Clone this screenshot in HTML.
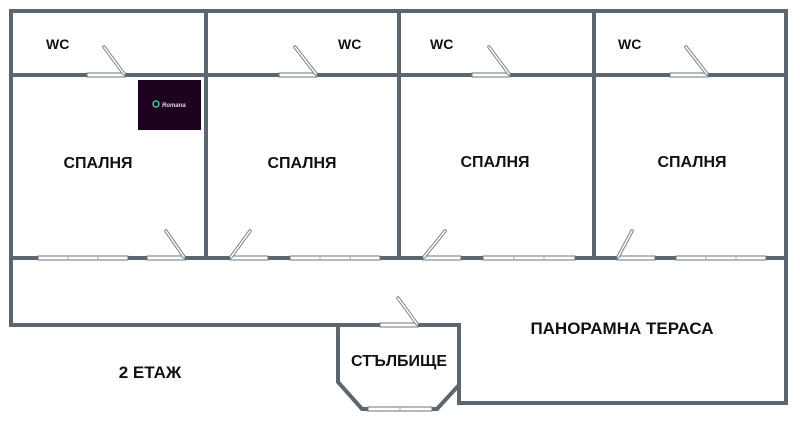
<!DOCTYPE html><html><head><style>body{margin:0;background:#fff}svg{display:block}text{font-family:"Liberation Sans",sans-serif;font-weight:bold;fill:#111}</style></head><body>
<svg width="800" height="421" viewBox="0 0 800 421" xmlns="http://www.w3.org/2000/svg">
<g stroke="#5b6770" stroke-width="4" fill="none" stroke-linecap="square">
<rect x="11" y="11" width="775" height="247"/>
<line x1="11" y1="75" x2="786" y2="75"/>
<line x1="206" y1="11" x2="206" y2="258"/>
<line x1="399" y1="11" x2="399" y2="258"/>
<line x1="594" y1="11" x2="594" y2="258"/>
<polyline points="11,258 11,325 338,325 338,382 362,409 437,409 459,385 459,403 786,403 786,258"/>
<polyline points="338,325 459,325 459,385"/>
</g>
<rect x="138" y="80" width="63" height="50" fill="#1f0220"/>
<circle cx="156" cy="104" r="3" fill="none" stroke="#3c9" stroke-width="1.5"/>
<text x="162" y="107" font-size="6" style="fill:#ddd;font-style:italic">Romana</text>
<g fill="#fff" stroke="#6a747c" stroke-width="1">
<rect x="87" y="73" width="38" height="4"/><rect x="279" y="73" width="38" height="4"/>
<rect x="472" y="73" width="38" height="4"/><rect x="670" y="73" width="38" height="4"/>
<rect x="147" y="256" width="38" height="4"/><rect x="230" y="256" width="38" height="4"/>
<rect x="423" y="256" width="38" height="4"/><rect x="617" y="256" width="38" height="4"/>
<rect x="380" y="323" width="38" height="4"/>
<rect x="38" y="256" width="90" height="4"/><rect x="290" y="256" width="90" height="4"/>
<rect x="483" y="256" width="92" height="4"/><rect x="676" y="256" width="90" height="4"/>
<rect x="368" y="407" width="64" height="4"/>
</g>
<g stroke="#9aa" stroke-width="1">
<line x1="68" y1="256" x2="68" y2="260"/><line x1="98" y1="256" x2="98" y2="260"/>
<line x1="320" y1="256" x2="320" y2="260"/><line x1="350" y1="256" x2="350" y2="260"/>
<line x1="514" y1="256" x2="514" y2="260"/><line x1="544" y1="256" x2="544" y2="260"/>
<line x1="706" y1="256" x2="706" y2="260"/><line x1="736" y1="256" x2="736" y2="260"/>
<line x1="400" y1="407" x2="400" y2="411"/>
</g>
<g stroke="#7a8288" stroke-width="3.5" stroke-linecap="round">
<line x1="124" y1="74" x2="104" y2="47"/><line x1="316" y1="74" x2="295" y2="47"/>
<line x1="509" y1="74" x2="489" y2="47"/><line x1="707" y1="74" x2="686" y2="47"/>
<line x1="184" y1="257" x2="166" y2="231"/><line x1="231" y1="257" x2="250" y2="231"/>
<line x1="424" y1="257" x2="445" y2="231"/><line x1="618" y1="257" x2="632" y2="231"/>
<line x1="417" y1="324" x2="398" y2="298"/>
</g>
<g stroke="#fff" stroke-width="1.5" stroke-linecap="round">
<line x1="124" y1="74" x2="104" y2="47"/><line x1="316" y1="74" x2="295" y2="47"/>
<line x1="509" y1="74" x2="489" y2="47"/><line x1="707" y1="74" x2="686" y2="47"/>
<line x1="184" y1="257" x2="166" y2="231"/><line x1="231" y1="257" x2="250" y2="231"/>
<line x1="424" y1="257" x2="445" y2="231"/><line x1="618" y1="257" x2="632" y2="231"/>
<line x1="417" y1="324" x2="398" y2="298"/>
</g>
<g font-size="14">
<text x="46" y="49">WC</text><text x="338" y="49">WC</text><text x="430" y="49">WC</text><text x="618" y="49">WC</text>
</g>
<g font-size="16" text-anchor="middle">
<text x="98" y="168">СПАЛНЯ</text><text x="302" y="168">СПАЛНЯ</text>
<text x="495" y="167">СПАЛНЯ</text><text x="692" y="167">СПАЛНЯ</text>
<text x="622" y="334" font-size="17">ПАНОРАМНА ТЕРАСА</text>
<text x="399" y="366">СТЪЛБИЩЕ</text>
<text x="150" y="378" font-size="17">2 ЕТАЖ</text>
</g>
</svg>
</body></html>
